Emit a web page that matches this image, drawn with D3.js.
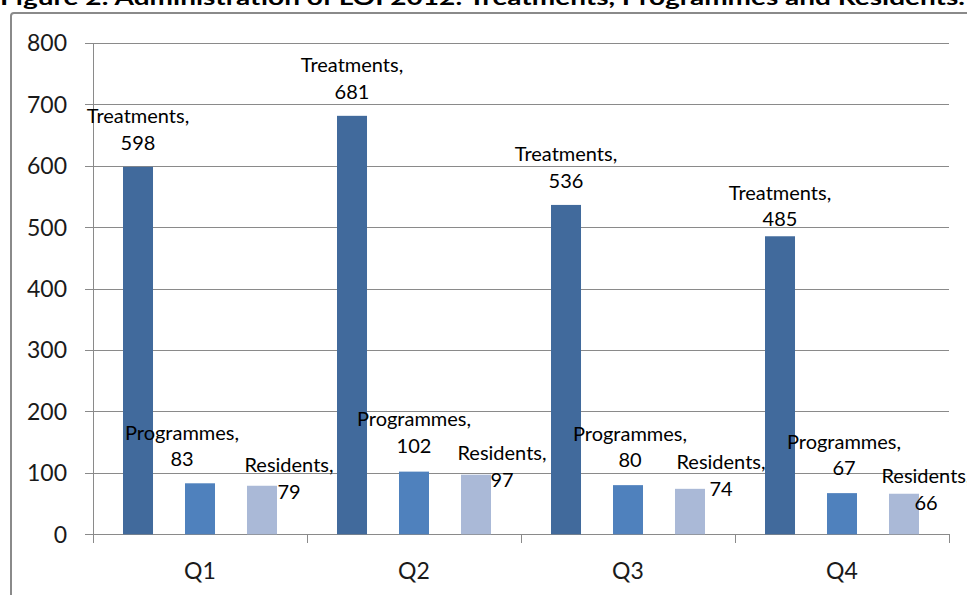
<!DOCTYPE html>
<html>
<head>
<meta charset="utf-8">
<script src="https://cdn.jsdelivr.net/npm/d3@7/dist/d3.min.js"></script>
<style>
  html, body { margin: 0; padding: 0; background: #fff; overflow: hidden; }
  svg { display: block; }
</style>
</head>
<body>
<svg id="chart" width="967" height="595"></svg>
<script>
// ---- Data ----
const titleText = "Figure 2: Administration of LOI 2012: Treatments, Programmes and Residents.";
const categories = ["Q1", "Q2", "Q3", "Q4"];
const seriesNames = ["Treatments", "Programmes", "Residents"];
const treatments = [598, 681, 536, 485];
const programmes = [83, 102, 80, 67];
const residents = [79, 97, 74, 66];
const yTicks = [0, 100, 200, 300, 400, 500, 600, 700, 800];

// ---- Style / layout ----
const colors = { Treatments: "#416a9c", Programmes: "#4f81bd", Residents: "#aab9d7" };
// manual data-label nudges [dx, dy from bar top to value baseline]
const labelNudge = {
  Treatments: [[0, -17], [0, -17], [0, -17], [0, -10]],
  Programmes: [[-18, -17], [0, -19], [2, -18], [2, -18]],
  Residents: [[27, 13], [26, 12], [31, 7], [22, 16]]
};
const lineGap = 26.5;

const seriesValues = { Treatments: treatments, Programmes: programmes, Residents: residents };
const svg = d3.select("#chart");

// frame
svg.append("rect")
  .attr("x", 11).attr("y", 13).attr("width", 980).attr("height", 620)
  .attr("rx", 3)
  .attr("fill", "#fff").attr("stroke", "#8a8a8a").attr("stroke-width", 2);

// title (clipped at top in reference)
svg.append("text")
  .attr("x", 0).attr("y", 5)
  .attr("textLength", 965).attr("lengthAdjust", "spacingAndGlyphs")
  .attr("font-family", "Lato, 'Open Sans', sans-serif")
  .attr("font-weight", "bold").attr("font-size", 21)
  .attr("fill", "#000")
  .text(titleText);

const x0 = d3.scaleBand().domain(categories).range([93, 949]).paddingInner(0).paddingOuter(0);
const x1 = d3.scaleBand().domain(seriesNames).range([0, x0.bandwidth()])
  .paddingInner(0.516).paddingOuter(0.484);
const y = d3.scaleLinear().domain([0, 800]).range([534.3, 42.7]);

// gridlines (extend left as tick marks)
svg.append("g")
  .attr("transform", "translate(93,0)")
  .call(d3.axisLeft(y).tickValues(yTicks).tickSize(-(949 - 93)).tickSizeOuter(0).tickFormat(""))
  .call(g => g.select(".domain").remove())
  .call(g => g.selectAll(".tick line").attr("stroke", "#8a8a8a").attr("x1", -8).attr("shape-rendering", "crispEdges"));

// y tick labels
svg.append("g")
  .selectAll("text").data(yTicks).join("text")
  .attr("x", 67).attr("y", d => y(d) + 8.5)
  .attr("text-anchor", "end")
  .attr("font-family", "Lato, sans-serif").attr("font-size", 23)
  .attr("fill", "#1a1a1a")
  .text(d => d);

// y axis line
svg.append("line")
  .attr("x1", 93).attr("x2", 93).attr("y1", y(800)).attr("y2", y(0))
  .attr("stroke", "#8a8a8a").attr("shape-rendering", "crispEdges");

// x axis
const boundaries = categories.map(c => x0(c)).concat([x0(categories[categories.length - 1]) + x0.bandwidth()]);
svg.append("line")
  .attr("x1", 93).attr("x2", 949).attr("y1", y(0)).attr("y2", y(0))
  .attr("stroke", "#8a8a8a").attr("shape-rendering", "crispEdges");
svg.append("g").selectAll("line").data(boundaries).join("line")
  .attr("x1", d => d).attr("x2", d => d).attr("y1", y(0)).attr("y2", y(0) + 9)
  .attr("stroke", "#8a8a8a").attr("shape-rendering", "crispEdges");
svg.append("g").selectAll("text").data(categories).join("text")
  .attr("x", d => x0(d) + x0.bandwidth() / 2).attr("y", 579)
  .attr("text-anchor", "middle")
  .attr("font-family", "Lato, sans-serif").attr("font-size", 23)
  .attr("fill", "#1a1a1a")
  .text(d => d);

// bars
const barData = [];
categories.forEach((c, i) => {
  seriesNames.forEach(s => barData.push({ cat: c, i, series: s, value: seriesValues[s][i] }));
});
svg.append("g").selectAll("rect").data(barData).join("rect")
  .attr("x", d => x0(d.cat) + x1(d.series))
  .attr("y", d => y(d.value))
  .attr("width", x1.bandwidth())
  .attr("height", d => y(0) - y(d.value))
  .attr("fill", d => colors[d.series]);

// data labels
const lab = svg.append("g")
  .attr("font-family", "Lato, sans-serif").attr("font-size", 20)
  .attr("fill", "#000").attr("text-anchor", "middle");
barData.forEach(d => {
  const n = labelNudge[d.series][d.i];
  const cx = x0(d.cat) + x1(d.series) + x1.bandwidth() / 2 + n[0];
  const vy = y(d.value) + n[1];
  lab.append("text").attr("x", cx).attr("y", vy - lineGap).text(d.series + ",");
  lab.append("text").attr("x", cx).attr("y", vy).text(d.value);
});
</script>
</body>
</html>
